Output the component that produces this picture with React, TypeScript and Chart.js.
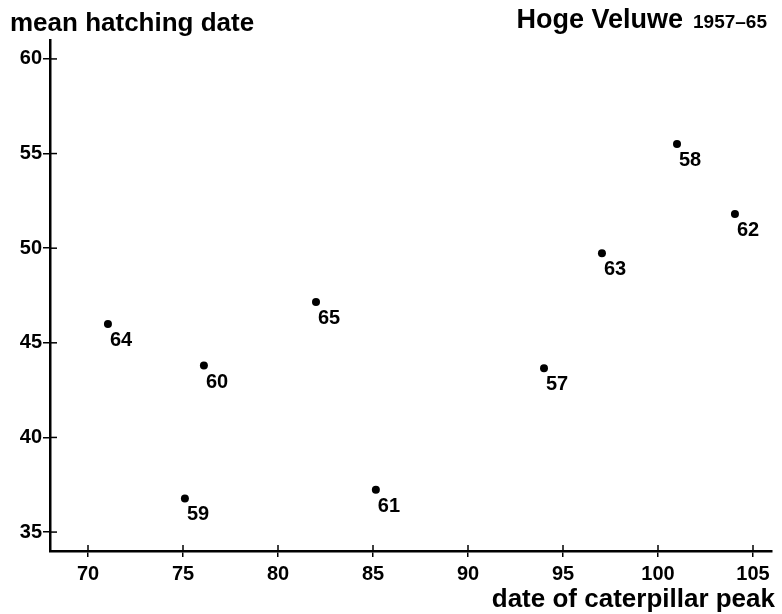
import React, { useEffect, useRef } from "react";
import { Chart, registerables } from "chart.js";

Chart.register(...registerables);

// Data (years 1957–65, Hoge Veluwe)
const yearLabels = ["57", "58", "59", "60", "61", "62", "63", "64", "65"];
const caterpillarPeak = [94.0, 101.0, 75.1, 76.1, 85.15, 104.05, 97.05, 71.05, 82.0];
const meanHatching = [43.65, 55.5, 36.78, 43.8, 37.23, 51.8, 49.73, 46.0, 47.15];

const xTickValues = [70, 75, 80, 85, 90, 95, 100, 105];
const yTickValues = [35, 40, 45, 50, 55, 60];

const yTitle = "mean hatching date";
const mainTitle = "Hoge Veluwe";
const subTitle = "1957–65";
const xTitle = "date of caterpillar peak";

const FONT = "'Liberation Sans', Arial, Helvetica, sans-serif";

const overlayPlugin = {
  id: "overlay",
  afterDatasetsDraw(chart: any) {
    const ctx = chart.ctx;
    const xs = chart.scales.x;
    const ys = chart.scales.y;
    const area = chart.chartArea;
    ctx.save();
    ctx.strokeStyle = "#000";
    ctx.lineWidth = 1.5;
    // inner halves of tick marks
    xs.ticks.forEach((t: any) => {
      const px = xs.getPixelForValue(t.value);
      ctx.beginPath();
      ctx.moveTo(px, area.bottom);
      ctx.lineTo(px, area.bottom - 6);
      ctx.stroke();
    });
    ys.ticks.forEach((t: any) => {
      const py = ys.getPixelForValue(t.value);
      ctx.beginPath();
      ctx.moveTo(area.left, py);
      ctx.lineTo(area.left + 7, py);
      ctx.stroke();
    });
    // point labels
    ctx.fillStyle = "#000";
    ctx.font = `bold 20px ${FONT}`;
    ctx.textAlign = "left";
    ctx.textBaseline = "alphabetic";
    const meta = chart.getDatasetMeta(0);
    meta.data.forEach((el: any, i: number) => {
      ctx.fillText(yearLabels[i], el.x + 2, el.y + 22);
    });
    // titles
    ctx.font = `bold 26px ${FONT}`;
    ctx.textAlign = "left";
    ctx.fillText(yTitle, 10, 31);
    ctx.textAlign = "right";
    ctx.fillText(xTitle, 775, 607);
    ctx.font = `bold 19px ${FONT}`;
    const subW = ctx.measureText(subTitle).width;
    ctx.fillText(subTitle, 767, 28);
    ctx.font = `bold 27px ${FONT}`;
    ctx.fillText(mainTitle, 767 - subW - 10, 28);
    ctx.restore();
  },
};

export default function App() {
  const ref = useRef<HTMLCanvasElement | null>(null);
  useEffect(() => {
    if (!ref.current) return;
    const points = caterpillarPeak.map((x, i) => ({ x, y: meanHatching[i] }));
    const chart = new Chart(ref.current, {
      type: "scatter",
      data: {
        datasets: [
          {
            data: points,
            backgroundColor: "#000",
            borderWidth: 0,
            pointRadius: 4,
          },
        ],
      },
      options: {
        animation: false,
        responsive: false,
        devicePixelRatio: 1,
        layout: { padding: { top: 40, right: 10, left: 0, bottom: 0 } },
        plugins: {
          legend: { display: false },
          tooltip: { enabled: false },
          title: { display: false },
        },
        scales: {
          x: {
            type: "linear",
            min: 68,
            max: 106,
            afterBuildTicks: (s: any) => {
              s.ticks = xTickValues.map((v) => ({ value: v }));
            },
            afterFit: (s: any) => {
              s.height = 63;
            },
            grid: {
              display: true,
              drawOnChartArea: false,
              drawTicks: true,
              tickLength: 6,
              color: "#000",
              lineWidth: 1.5,
            },
            border: { display: true, color: "#000", width: 2.5 },
            ticks: {
              color: "#000",
              padding: 5,
              font: { family: FONT, size: 20, weight: "bold" },
              maxRotation: 0,
            },
          },
          y: {
            type: "linear",
            min: 34,
            max: 61,
            afterBuildTicks: (s: any) => {
              s.ticks = yTickValues.map((v) => ({ value: v }));
            },
            afterFit: (s: any) => {
              s.width = 50;
            },
            grid: {
              display: true,
              drawOnChartArea: false,
              drawTicks: true,
              tickLength: 7,
              color: "#000",
              lineWidth: 1.5,
            },
            border: { display: true, color: "#000", width: 2.5 },
            ticks: {
              color: "#000",
              padding: 1,
              font: { family: FONT, size: 20, weight: "bold" },
            },
          },
        },
      },
      plugins: [overlayPlugin],
    } as any);
    return () => chart.destroy();
  }, []);
  return (
    <div style={{ position: "fixed", left: 0, top: 0, width: 782, height: 614, background: "#fff" }}>
      <canvas ref={ref} width={782} height={614} style={{ display: "block" }} />
    </div>
  );
}
